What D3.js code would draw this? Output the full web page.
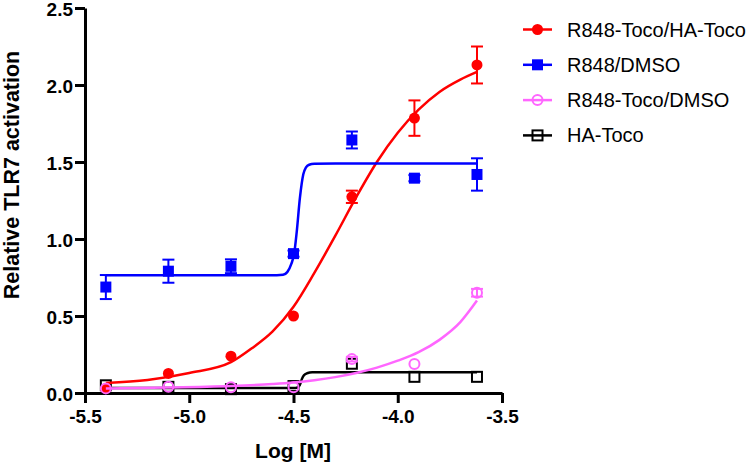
<!DOCTYPE html>
<html>
<head>
<meta charset="utf-8">
<script src="https://cdn.jsdelivr.net/npm/d3@7.9.0/dist/d3.min.js"></script>
<style>
  body { margin: 0; background: #fff; }
  svg { display: block; font-family: Arial, "Liberation Sans", sans-serif; }
</style>
</head>
<body>
<svg id="chart" width="746" height="465"></svg>
<script>
// log concentrations used for every series
const logDose = [-5.4, -5.1, -4.8, -4.5, -4.22, -3.92, -3.62];

const seriesNames = ['R848-Toco/HA-Toco', 'R848/DMSO', 'R848-Toco/DMSO', 'HA-Toco'];
const seriesColors = ['#ff0000', '#0000ff', '#ff66ff', '#000000'];
const seriesShapes = ['circle', 'square', 'circle', 'square'];
const seriesFilled = [true, true, false, false];

// means and SEM
const redMean = [0.03, 0.127, 0.239, 0.5, 1.274, 1.785, 2.13];
const redErr = [0, 0, 0, 0, 0.04, 0.115, 0.12];
const blueMean = [0.688, 0.791, 0.823, 0.905, 1.643, 1.395, 1.419];
const blueErr = [0.078, 0.075, 0.045, 0.02, 0.055, 0.02, 0.105];
const pinkMean = [0.03, 0.04, 0.037, 0.037, 0.22, 0.188, 0.651];
const pinkErr = [0, 0, 0, 0, 0.015, 0, 0.025];
const blackMean = [0.05, 0.04, 0.025, 0.045, 0.19, 0.105, 0.105];
const blackErr = [0, 0, 0, 0, 0, 0, 0];

// fitted curves
const redFitX = [-5.4, -5.2, -5.0, -4.8, -4.7, -4.6, -4.5, -4.4, -4.3, -4.2, -4.1, -4.0, -3.9, -3.8, -3.7, -3.62];
const redFitY = [0.065, 0.085, 0.13, 0.2, 0.29, 0.4, 0.56, 0.78, 1.02, 1.27, 1.5, 1.69, 1.84, 1.955, 2.035, 2.085];
const blueFitX = [-5.4, -4.58, -4.55, -4.53, -4.51, -4.497, -4.485, -4.469, -4.453, -4.44, -4.425, -4.4, -4.3, -3.62];
const blueFitY = [0.765, 0.765, 0.768, 0.785, 0.84, 0.904, 1.04, 1.27, 1.42, 1.465, 1.482, 1.488, 1.49, 1.49];
const pinkFitX = [-5.4, -5.1, -4.8, -4.6, -4.5, -4.4, -4.3, -4.2, -4.1, -4.0, -3.9, -3.8, -3.7, -3.62];
const pinkFitY = [0.03, 0.035, 0.045, 0.058, 0.068, 0.083, 0.103, 0.13, 0.165, 0.21, 0.265, 0.345, 0.46, 0.6];
const blackFitX = [-5.4, -4.5, -4.48, -4.47, -4.46, -4.45, -4.435, -4.41, -4.35, -3.62];
const blackFitY = [0.032, 0.032, 0.036, 0.05, 0.09, 0.115, 0.128, 0.134, 0.134, 0.134];

const xTicks = [-5.5, -5.0, -4.5, -4.0, -3.5];
const yTicks = [0, 0.5, 1.0, 1.5, 2.0, 2.5];

const svg = d3.select('#chart');

const x = d3.scaleLinear().domain([-5.5, -3.5]).range([85, 502]);
const y = d3.scaleLinear().domain([0, 2.5]).range([393, 8]);

const series = [
  { mean: redMean, err: redErr, fx: redFitX, fy: redFitY },
  { mean: blueMean, err: blueErr, fx: blueFitX, fy: blueFitY },
  { mean: pinkMean, err: pinkErr, fx: pinkFitX, fy: pinkFitY },
  { mean: blackMean, err: blackErr, fx: blackFitX, fy: blackFitY },
].map((s, i) => ({ ...s, name: seriesNames[i], color: seriesColors[i], shape: seriesShapes[i], filled: seriesFilled[i] }));

// plain hyphen for negatives, like the original
const fmt = d => d.toFixed(1);

// axes
const xAxis = svg.append('g')
  .attr('transform', `translate(0,${y(0)})`)
  .call(d3.axisBottom(x).tickValues(xTicks).tickFormat(fmt).tickSize(10).tickSizeOuter(0));
const yAxis = svg.append('g')
  .attr('transform', `translate(${x(-5.5)},0)`)
  .call(d3.axisLeft(y).tickValues(yTicks).tickFormat(fmt).tickSize(10).tickSizeOuter(0));

[xAxis, yAxis].forEach(g => {
  g.select('.domain').attr('stroke', '#000').attr('stroke-width', 3);
  g.selectAll('.tick line').attr('stroke', '#000').attr('stroke-width', 3);
  g.selectAll('.tick text')
    .attr('fill', '#000')
    .attr('font-size', 19)
    .attr('font-weight', 'bold')
    .attr('font-family', 'Arial, "Liberation Sans", sans-serif');
});
xAxis.selectAll('.tick text').attr('dy', '0.95em').attr('y', 12);
yAxis.selectAll('.tick text').attr('x', -12).attr('dy', '0.42em');

// axis titles
svg.append('text')
  .attr('x', 293)
  .attr('y', 458)
  .attr('text-anchor', 'middle')
  .attr('font-size', 21)
  .attr('font-weight', 'bold')
  .text('Log [M]');

svg.append('text')
  .attr('transform', 'translate(19,175) rotate(-90)')
  .attr('text-anchor', 'middle')
  .attr('font-size', 21.5)
  .attr('font-weight', 'bold')
  .text('Relative TLR7 activation');

const line = d3.line()
  .x(d => x(d[0]))
  .y(d => y(d[1]))
  .curve(d3.curveMonotoneX);

function drawMarker(g, s, cx, cy) {
  if (s.shape === 'circle') {
    g.append('circle')
      .attr('cx', cx).attr('cy', cy)
      .attr('r', s.filled ? 5.5 : 5)
      .attr('fill', s.filled ? s.color : 'none')
      .attr('stroke', s.color)
      .attr('stroke-width', s.filled ? 0 : 2);
  } else {
    const half = s.filled ? 5.5 : 5;
    g.append('rect')
      .attr('x', cx - half).attr('y', cy - half)
      .attr('width', half * 2).attr('height', half * 2)
      .attr('fill', s.filled ? s.color : 'none')
      .attr('stroke', s.color)
      .attr('stroke-width', s.filled ? 0 : 2);
  }
}

const drawOrder = [3, 0, 1, 2];
drawOrder.forEach(i => {
  const s = series[i];
  const g = svg.append('g');

  g.append('path')
    .attr('d', line(d3.zip(s.fx, s.fy)))
    .attr('fill', 'none')
    .attr('stroke', s.color)
    .attr('stroke-width', 2.5);

  logDose.forEach((ld, k) => {
    const e = s.err[k];
    if (e > 0) {
      const cx = x(ld);
      g.append('line')
        .attr('x1', cx).attr('x2', cx)
        .attr('y1', y(s.mean[k] - e)).attr('y2', y(s.mean[k] + e))
        .attr('stroke', s.color).attr('stroke-width', 2);
      [s.mean[k] - e, s.mean[k] + e].forEach(v => {
        g.append('line')
          .attr('x1', cx - 6).attr('x2', cx + 6)
          .attr('y1', y(v)).attr('y2', y(v))
          .attr('stroke', s.color).attr('stroke-width', 2);
      });
    }
  });

  logDose.forEach((ld, k) => drawMarker(g, s, x(ld), y(s.mean[k])));
});

// legend
const legend = svg.append('g');
series.forEach((s, i) => {
  const ly = 29.5 + i * 35.3;
  legend.append('line')
    .attr('x1', 523).attr('x2', 552)
    .attr('y1', ly).attr('y2', ly)
    .attr('stroke', s.color).attr('stroke-width', 2.5);
  drawMarker(legend, s, 537.5, ly);
  legend.append('text')
    .attr('x', 567)
    .attr('y', ly + 7)
    .attr('font-size', 20)
    .text(s.name);
});
</script>
</body>
</html>
